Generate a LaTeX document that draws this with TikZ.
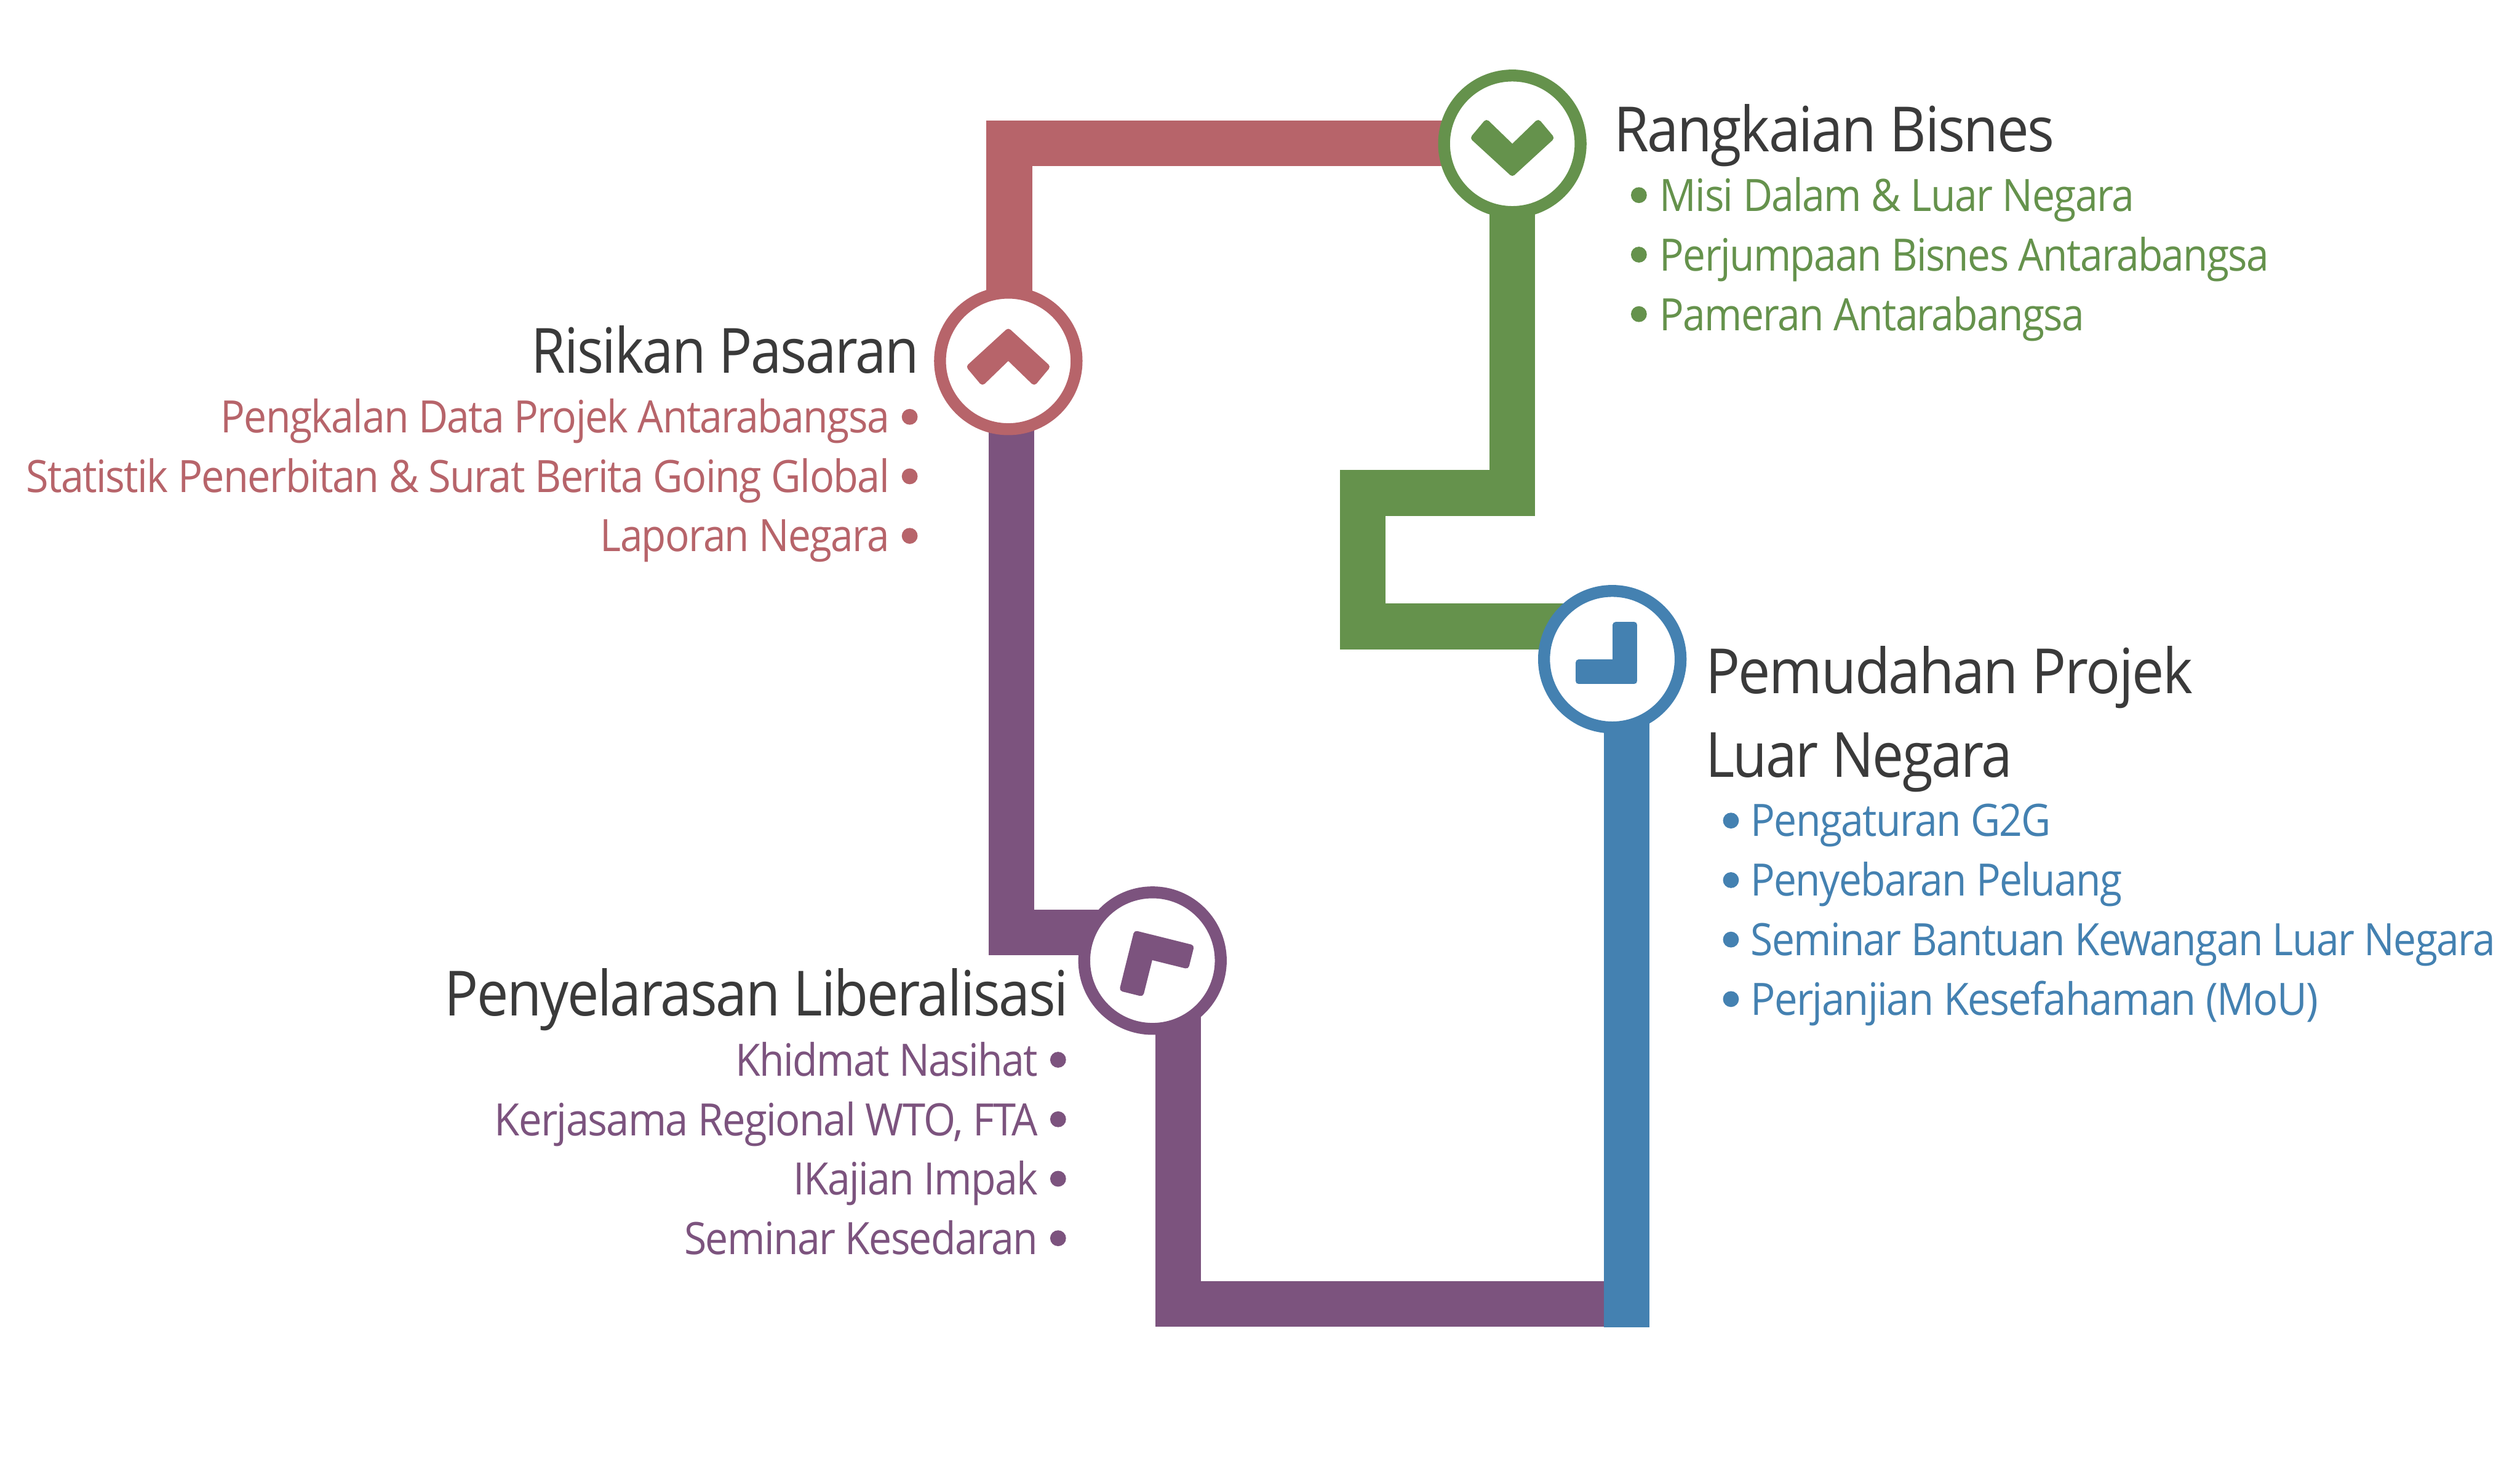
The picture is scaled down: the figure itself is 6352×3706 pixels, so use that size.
\documentclass[tikz,border=0pt]{standalone}
\usepackage{graphicx}
\usepackage{fontspec}
\setmainfont[LetterSpace=-2.5]{Open Sans}
\definecolor{cred}{HTML}{B7646A}
\definecolor{cgreen}{HTML}{65924C}
\definecolor{cblue}{HTML}{4481B1}
\definecolor{cpurple}{HTML}{7C537E}
\definecolor{cdark}{HTML}{3A3A3A}
\newsavebox{\fitbox}
% set text squeezed horizontally to a target width given in reference pixels
\newcommand{\fitw}[2]{\sbox{\fitbox}{#2}\pgfmathsetmacro{\fitr}{#1*0.284528/\the\wd\fitbox}\scalebox{\fitr}[1]{#2}}
\tikzset{
  x=0.01cm, y=-0.01cm,
  seg/.style={draw=#1, line width=1.15cm, line cap=butt, line join=miter},
  ring/.style={circle, draw=#1, fill=white, line width=0.3cm, minimum size=3.44cm, inner sep=0pt, outer sep=0pt},
  glyph/.style={fill=#1, draw=#1, line width=0.16cm, line join=round},
  dot/.style={circle, fill=#1, draw=none, minimum size=0.4cm, inner sep=0pt},
  headL/.style={anchor=base west, inner sep=0pt, text=cdark, font=\fontsize{44.7}{44.7}\selectfont},
  headR/.style={anchor=base east, inner sep=0pt, text=cdark, font=\fontsize{44.7}{44.7}\selectfont},
  itemL/.style={anchor=base west, inner sep=0pt, text=#1, font=\fontsize{32}{32}\selectfont},
  itemR/.style={anchor=base east, inner sep=0pt, text=#1, font=\fontsize{32}{32}\selectfont},
}
\begin{document}
\begin{tikzpicture}
\useasboundingbox[fill=white] (0,0) rectangle (6352,3706);

% ring positions
\coordinate (gc) at (3812,362.5);
\coordinate (rc) at (2541.5,910);
\coordinate (bc) at (4064,1662);
\coordinate (pc) at (2905,2422);

% bends
\coordinate (r1) at (2544,361.5);
\coordinate (g0) at (3811.5,362.5);
\coordinate (g1) at (3811.5,1243);
\coordinate (g2) at (3435,1243);
\coordinate (g3) at (3435,1579.5);
\coordinate (p0) at (2549.5,910);
\coordinate (p1) at (2549.5,2350.5);
\coordinate (q0) at (2969.5,2422);
\coordinate (q1) at (2969.5,3287.5);
\coordinate (b0) at (4100.5,1662);
\coordinate (b1) at (4100.5,3347);

% connectors
\draw[seg=cred] (gc |- r1) -- (r1) -- (r1 |- rc);
\draw[seg=cpurple] (p0) -- (p1) -- (pc |- p1);
\draw[seg=cpurple] (q0) -- (q1) -- (b1 |- q1);
\draw[seg=cgreen] (g0) -- (g1) -- (g2) -- (g3) -- (bc |- g3);
\draw[seg=cblue] (b0) -- (b1);

% rings
\node[ring=cgreen] (ringG) at (gc) {};
\node[ring=cred] (ringR) at (rc) {};
\node[ring=cblue] (ringB) at (bc) {};
\node[ring=cpurple] (ringP) at (pc) {};

% icons
\begin{scope}[shift={(gc)}]
  \filldraw[glyph=cgreen] (0,11) -- (65,-52) -- (96,-15) -- (0,73) -- (-96,-15) -- (-65,-52) -- cycle;
\end{scope}
\begin{scope}[shift={(rc)}, yscale=-1]
  \filldraw[glyph=cred] (0,11) -- (65,-52) -- (96,-15) -- (0,73) -- (-96,-15) -- (-65,-52) -- cycle;
\end{scope}
\begin{scope}[shift={(bc)}]
  \filldraw[glyph=cblue] (55,55) -- (55,-86) -- (9,-86) -- (9,9) -- (-85,9) -- (-85,55) -- cycle;
\end{scope}
\begin{scope}[shift={(pc)}, rotate=-194]
  \filldraw[glyph=cpurple] (55,55) -- (55,-86) -- (9,-86) -- (9,9) -- (-85,9) -- (-85,55) -- cycle;
\end{scope}

% Rangkaian Bisnes
\node[headL] (tG) at (4067,382) {\fitw{1110}{Rangkaian Bisnes}};
\node[itemL=cgreen] (g1t) at (4183,533) {\fitw{1195}{Misi Dalam \& Luar Negara}};
\node[itemL=cgreen] (g2t) at (4183,683) {\fitw{1535}{Perjumpaan Bisnes Antarabangsa}};
\node[itemL=cgreen] (g3t) at (4183,833) {\fitw{1070}{Pameran Antarabangsa}};
\node[dot=cgreen] (g1d) at (4131,492) {};
\node[dot=cgreen] (g2d) at (4131,642) {};
\node[dot=cgreen] (g3d) at (4131,792) {};

% Risikan Pasaran
\node[headR] (tR) at (2317,941) {\fitw{976}{Risikan Pasaran}};
\node[itemR=cred] (r1t) at (2243,1091) {\fitw{1685}{Pengkalan Data Projek Antarabangsa}};
\node[itemR=cred] (r2t) at (2243,1241) {\fitw{2175}{Statistik Penerbitan \& Surat Berita Going Global}};
\node[itemR=cred] (r3t) at (2243,1391) {\fitw{729}{Laporan Negara}};
\node[dot=cred] (r1d) at (2293,1051) {};
\node[dot=cred] (r2d) at (2293,1201) {};
\node[dot=cred] (r3d) at (2293,1351) {};

% Pemudahan Projek
\node[headL] (tB1) at (4298,1749) {\fitw{1228}{Pemudahan Projek}};
\node[headL] (tB2) at (4298,1960) {\fitw{774}{Luar Negara}};
\node[itemL=cblue] (b1t) at (4412,2109) {\fitw{757}{Pengaturan G2G}};
\node[itemL=cblue] (b2t) at (4412,2259) {\fitw{936}{Penyebaran Peluang}};
\node[itemL=cblue] (b3t) at (4412,2409) {\fitw{1876}{Seminar Bantuan Kewangan Luar Negara}};
\node[itemL=cblue] (b4t) at (4412,2559) {\fitw{1430}{Perjanjian Kesefahaman (MoU)}};
\node[dot=cblue] (b1d) at (4363,2069) {};
\node[dot=cblue] (b2d) at (4363,2219) {};
\node[dot=cblue] (b3d) at (4363,2369) {};
\node[dot=cblue] (b4d) at (4363,2519) {};

% Penyelarasan Liberalisasi
\node[headR] (tP) at (2694,2561) {\fitw{1572}{Penyelarasan Liberalisasi}};
\node[itemR=cpurple] (p1t) at (2617,2713) {\fitw{762}{Khidmat Nasihat}};
\node[itemR=cpurple] (p2t) at (2617,2863) {\fitw{1369}{Kerjasama Regional WTO, FTA}};
\node[itemR=cpurple] (p3t) at (2617,3013) {\fitw{616}{IKajian Impak}};
\node[itemR=cpurple] (p4t) at (2617,3163) {\fitw{891}{Seminar Kesedaran}};
\node[dot=cpurple] (p1d) at (2667,2672) {};
\node[dot=cpurple] (p2d) at (2667,2822) {};
\node[dot=cpurple] (p3d) at (2667,2972) {};
\node[dot=cpurple] (p4d) at (2667,3122) {};
\end{tikzpicture}
\end{document}
